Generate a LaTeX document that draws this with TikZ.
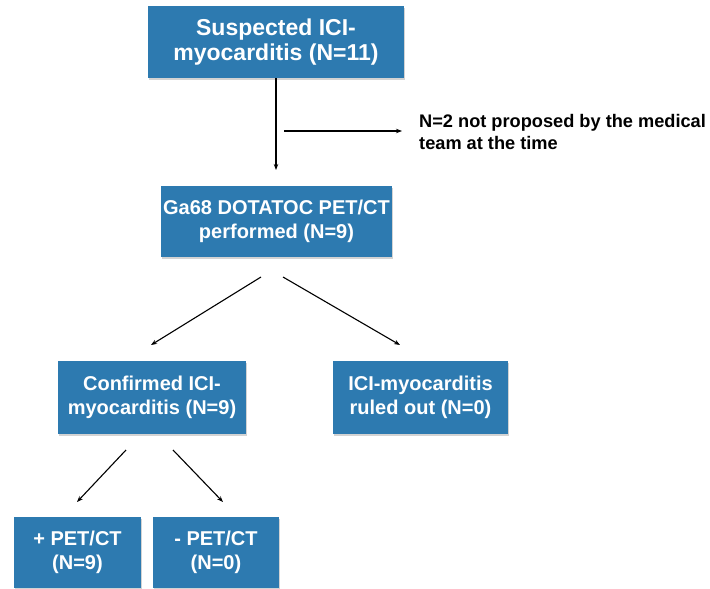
\documentclass[tikz,border=0pt]{standalone}
\usepackage{fontspec}
\setmainfont{Liberation Sans}
\usetikzlibrary{arrows.meta,shadows}
\definecolor{boxblue}{RGB}{45,122,176}
\tikzset{
  bluebox/.style={rectangle, fill=boxblue, text=white, font=\bfseries\fontsize{20}{24}\selectfont,
    align=center, inner sep=0pt, drop shadow={shadow xshift=1pt, shadow yshift=-1.5pt, opacity=0.35}},
  arr/.style={-{Stealth[length=6pt,width=4.5pt]}, line width=1.1pt, black},
}
\begin{document}
\begin{tikzpicture}[x=1pt,y=-1pt]
\useasboundingbox (0,0) rectangle (710,589);
\node[bluebox, minimum width=256pt, minimum height=72pt, font=\bfseries\fontsize{23}{25}\selectfont] (b1) at (276,42) {Suspected ICI-\\myocarditis (N=11)};
\node[bluebox, minimum width=231pt, minimum height=71pt] (b2) at (276.5,221.5) {Ga68 DOTATOC PET/CT\\performed (N=9)};
\node[bluebox, minimum width=188pt, minimum height=73pt] (b3) at (152,397.5) {Confirmed ICI-\\myocarditis (N=9)};
\node[bluebox, minimum width=175pt, minimum height=73pt] (b4) at (420.5,397.5) {ICI-myocarditis\\ruled out (N=0)};
\node[bluebox, minimum width=127pt, minimum height=71pt] (b5) at (77.5,552.5) {+ PET/CT\\(N=9)};
\node[bluebox, minimum width=126pt, minimum height=71pt] (b6) at (216,552.5) {- PET/CT\\(N=0)};
\node[anchor=west, align=left, inner sep=0pt, font=\bfseries\fontsize{18.2}{22.5}\selectfont] (note) at (419,132) {N=2 not proposed by the medical\\team at the time};
% connector end points
\coordinate (v1) at (276,170);
\coordinate (h1) at (284,131);
\coordinate (h2) at (402,131);
\coordinate (d1s) at (261,277);
\coordinate (d1e) at (151,345);
\coordinate (d2s) at (283,277);
\coordinate (d2e) at (400,345);
\coordinate (e1s) at (126,450);
\coordinate (e1e) at (77,502);
\coordinate (e2s) at (173,450);
\coordinate (e2e) at (223,502);
\draw[arr] (b1.south) -- (v1);
\draw[arr] (h1) -- (h2);
\draw[arr] (d1s) -- (d1e);
\draw[arr] (d2s) -- (d2e);
\draw[arr] (e1s) -- (e1e);
\draw[arr] (e2s) -- (e2e);
\end{tikzpicture}
\end{document}
